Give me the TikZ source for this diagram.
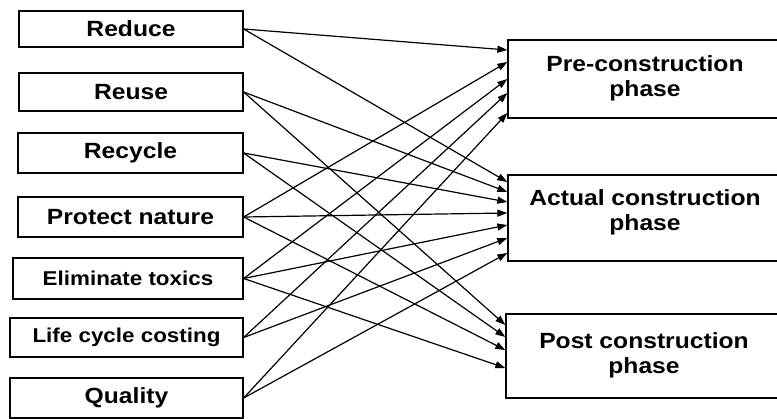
\documentclass[tikz,border=0pt]{standalone}
\usepackage{fontspec}
\newfontfamily\diagfont{Liberation Sans}[FakeStretch=1.12]
\usetikzlibrary{arrows.meta}
\begin{document}
\begin{tikzpicture}[x=1pt,y=-1pt,
  lbox/.style={draw, line width=1.3pt, inner sep=0pt, font=\diagfont\bfseries\fontsize{22}{25}\selectfont},
  smallbox/.style={lbox, font=\diagfont\bfseries\fontsize{20}{24}\selectfont},
  rbox/.style={draw, line width=1.3pt, inner sep=0pt, minimum width=282pt},
  rtext/.style={inner sep=0pt, align=center, font=\diagfont\bfseries\fontsize{22}{25}\selectfont},
  arr/.style={line width=1.2pt, -{Triangle[length=10pt,width=7pt]}}]
\useasboundingbox (0,0) rectangle (777,419);
\clip (0,0) rectangle (777,419);
\fill[white] (0,0) rectangle (777,419);
% left boxes
\node[lbox, minimum width=224pt, minimum height=36pt] (reduce) at (131,29) {Reduce};
\node[lbox, minimum width=224pt, minimum height=38pt] (reuse) at (131,92) {Reuse};
\node[lbox, minimum width=225pt, minimum height=40pt] (recycle) at (130.5,153) {Recycle};
\node[lbox, minimum width=225pt, minimum height=40pt] (protect) at (130.5,217) {Protect nature};
\node[smallbox, minimum width=230pt, minimum height=41pt] (elim) at (128,278.5) {Eliminate toxics};
\node[smallbox, minimum width=233pt, minimum height=39pt] (lcc) at (126.5,337.5) {Life cycle costing};
\node[lbox, minimum width=233pt, minimum height=40pt] (quality) at (126.5,398) {Quality};
% right boxes
\node[rbox, minimum height=78pt] (pre) at (649,79) {};
\node[rbox, minimum height=86pt] (act) at (649,218) {};
\node[rbox, minimum height=84pt] (post) at (647,356) {};
\node[rtext] (pretext) at (645,78) {Pre-construction\\phase};
\node[rtext] (acttext) at (645,212) {Actual construction\\phase};
\node[rtext] (posttext) at (644,355) {Post construction\\phase};
% connectors to pre-construction
\draw[arr] (reduce.east) -- (pre.west |- 0,50);
\draw[arr] (protect.east) -- (pre.west |- 0,62);
\draw[arr] (elim.east) -- (pre.west |- 0,79);
\draw[arr] (lcc.east) -- (pre.west |- 0,93);
\draw[arr] (quality.east) -- (pre.west |- 0,113);
% connectors to actual construction
\draw[arr] (reduce.east) -- (act.west |- 0,182);
\draw[arr] (reuse.east) -- (act.west |- 0,192);
\draw[arr] (recycle.east) -- (act.west |- 0,202);
\draw[arr] (protect.east) -- (act.west |- 0,213);
\draw[arr] (elim.east) -- (act.west |- 0,225);
\draw[arr] (lcc.east) -- (act.west |- 0,238);
\draw[arr] (quality.east) -- (act.west |- 0,253);
% connectors to post construction
\draw[arr] (reuse.east) -- (post.west |- 0,325);
\draw[arr] (recycle.east) -- (post.west |- 0,337);
\draw[arr] (protect.east) -- (post.west |- 0,350);
\draw[arr] (elim.east) -- (post.west |- 0,368);
\end{tikzpicture}
\end{document}
